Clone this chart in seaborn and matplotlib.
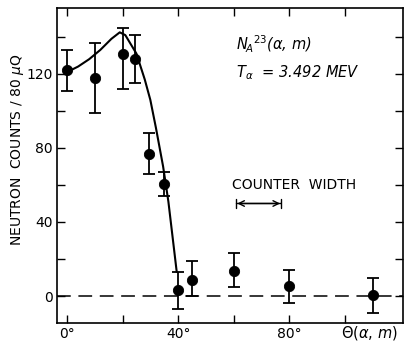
import numpy as np
import pandas as pd
import matplotlib
matplotlib.use('Agg')
import matplotlib.pyplot as plt
import seaborn as sns

# Measured points: angle (deg), counts, error bar limits
theta = [0, 10, 20, 24.5, 29.5, 35, 40, 45, 60, 80, 110]
counts = [122, 118, 131, 128, 77, 60.5, 3, 8.5, 13.5, 5.5, 0.5]
err_hi = [133, 137, 145, 141, 88, 67, 13, 19, 23, 14, 9.5]
err_lo = [111, 99, 112, 115, 66, 54, -7, 0, 5, -4, -9]

# Theory curve
curve_theta = [0, 4, 8, 12, 16, 19, 21, 23, 25, 28, 30, 32, 34.6, 36.5, 39.5]
curve_counts = [121, 124, 128, 133, 139, 142.5, 141, 136, 131, 117, 106, 91, 70, 51, 13]

df = pd.DataFrame({'theta': theta, 'counts': counts})
curve = pd.DataFrame({'theta': curve_theta, 'counts': curve_counts})

sns.set_style('ticks')
plt.rcParams['font.family'] = ['DejaVu Sans']
plt.rcParams['text.color'] = 'black'
plt.rcParams['axes.labelcolor'] = 'black'
plt.rcParams['xtick.color'] = 'black'
plt.rcParams['ytick.color'] = 'black'
plt.rcParams['axes.edgecolor'] = 'black'

fig = plt.figure(figsize=(4.04, 3.44), dpi=100)
ax = fig.add_axes([0.141, 0.061, 0.857, 0.916])

ax.axhline(0, color='black', lw=1.1, dashes=(9, 5))
sns.lineplot(data=curve, x='theta', y='counts', color='black', lw=1.5, ax=ax)
ax.errorbar(theta, counts,
            yerr=[np.array(counts) - np.array(err_lo), np.array(err_hi) - np.array(counts)],
            fmt='none', ecolor='black', elinewidth=1.3, capsize=4, capthick=1.3)
sns.scatterplot(data=df, x='theta', y='counts', color='black', s=55, edgecolor='black', ax=ax, zorder=5)

ax.set_xlim(-3.6, 121)
ax.set_ylim(-14.6, 155.7)
ax.set_xticks([0, 20, 40, 60, 80, 100])
ax.set_xticklabels(['0°', '', '40°', '', '80°', ''])
ax.set_yticks([-0.001, 40, 80, 120])
ax.set_yticklabels(['0', '40', '80', '120'])
ax.set_yticks([20, 60, 100, 140], minor=True)
ax.tick_params(direction='in', length=6, width=1, top=True, right=True, labelsize=10, pad=3)
ax.tick_params(which='minor', direction='in', length=6, width=1, right=True)
for s in ax.spines.values():
    s.set_linewidth(1.2)

ax.set_xlabel('')
ax.set_ylabel('NEUTRON  COUNTS / 80 $\\mu$Q', fontsize=10)
ax.yaxis.set_label_coords(-0.09, 0.55)

ax.text(98.5, -0.032, 'Θ($\\alpha$, $m$)', transform=ax.get_xaxis_transform(),
        ha='left', va='center', fontsize=10.5)

ax.text(61, 133, 'N$_{\\!A}$$^{23}$($\\alpha$, $m$)', fontsize=10.5, style='italic')
ax.text(61, 118, 'T$_\\alpha$  = 3.492 MEV', fontsize=10.5, style='italic')

ax.text(59.5, 60, 'COUNTER  WIDTH', ha='left', va='center', fontsize=10)
ax.annotate('', xy=(60, 50), xytext=(78, 50),
            arrowprops=dict(arrowstyle='|-|,widthA=0.3,widthB=0.3', color='black', lw=1))
ax.annotate('', xy=(60.3, 50), xytext=(77.7, 50),
            arrowprops=dict(arrowstyle='<->', color='black', lw=1))

fig.savefig('out.png', dpi=100)
